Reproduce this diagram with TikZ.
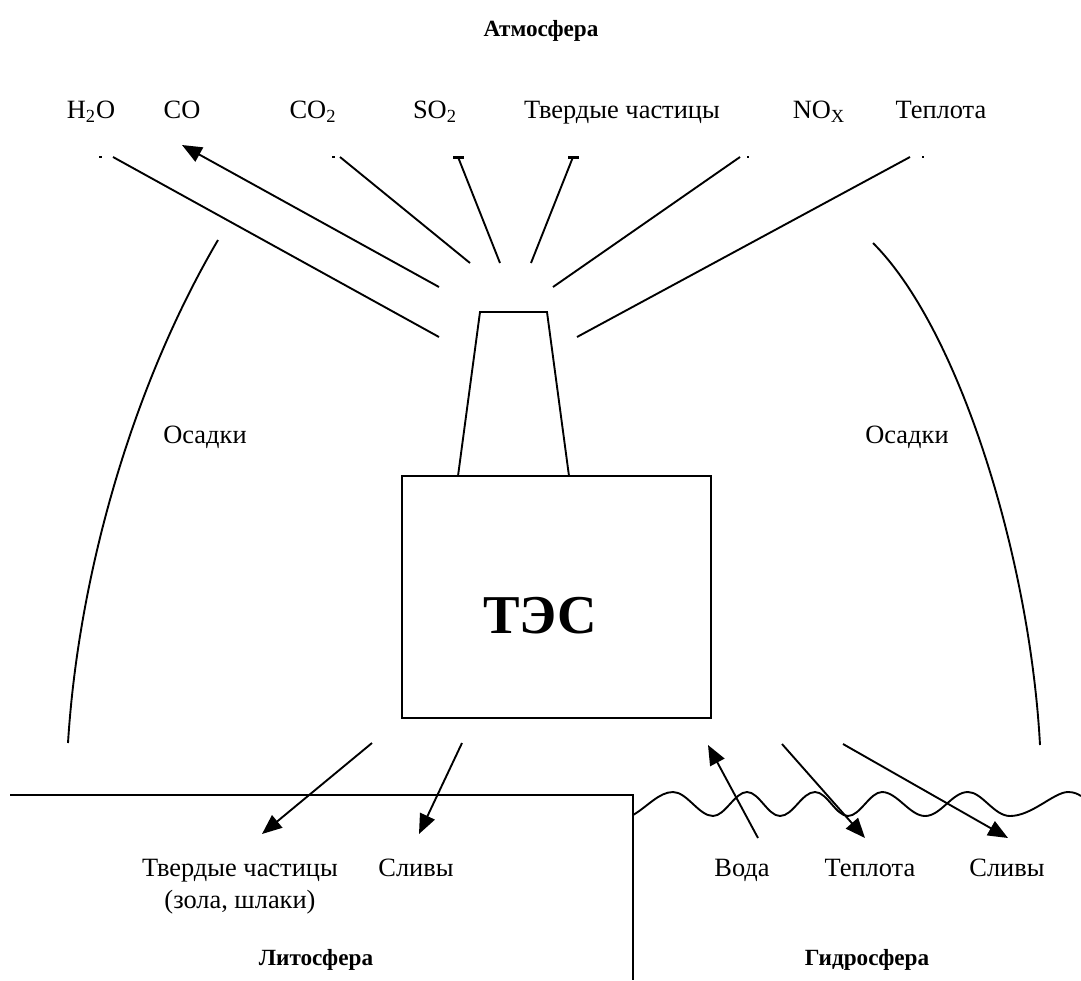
\documentclass[tikz,border=0pt]{standalone}
\usepackage{fontspec}
\setmainfont{Liberation Serif}
\usetikzlibrary{arrows.meta}
\begin{document}
\begin{tikzpicture}[x=0.53pt,y=-0.53pt,
  ln/.style={line width=1pt},
  arr/.style={line width=1pt,-{Triangle[length=10.5pt,width=8.5pt]}},
  lbl/.style={font=\fontsize{14}{16}\selectfont,inner sep=0pt,anchor=base},
  hd/.style={font=\fontsize{12.3}{14}\selectfont\bfseries,inner sep=0pt,anchor=base}]
\useasboundingbox (0,0) rectangle (1081,980);
% headings
\node[hd] (atm) at (541,36) {Атмосфера};
\node[hd] (lit) at (316,965) {Литосфера};
\node[hd] (hyd) at (867,965) {Гидросфера};
% top labels
\node[lbl] (h2o) at (91,118) {H\textsubscript{2}O};
\node[lbl] (co) at (182,118) {CO};
\node[lbl] (co2) at (313,118) {CO\textsubscript{2}};
\node[lbl] (so2) at (435,118) {SO\textsubscript{2}};
\node[lbl] (tv) at (622,118) {Твердые частицы};
\node[lbl] (nox) at (819,118) {NO\textsubscript{X}};
\node[lbl] (tep) at (941,118) {Теплота};
% plant
\draw[ln] (458,476) -- (480,312) -- (547,312) -- (569,476);
\node[draw,line width=1pt,minimum width=309*0.53pt,minimum height=242*0.53pt,inner sep=0pt] (tes) at (556.5,597) {};
\node[font=\fontsize{29}{34}\selectfont\bfseries,inner sep=0pt,anchor=base] (tesl) at (540,633) {ТЭС};
% top emissions
\coordinate (a1) at (439,337); \coordinate (b1) at (113,157);
\coordinate (a2) at (439,287); \coordinate (b2) at (182,145);
\coordinate (a3) at (470,263); \coordinate (b3) at (340,157);
\coordinate (a4) at (500,263); \coordinate (b4) at (458,157);
\coordinate (a5) at (531,263); \coordinate (b5) at (573,157);
\coordinate (a6) at (553,287); \coordinate (b6) at (740,157);
\coordinate (a7) at (577,337); \coordinate (b7) at (910,157);
\draw[ln] (a1) -- (b1);
\draw[arr] (a2) -- (b2);
\draw[ln] (a3) -- (b3);
\draw[ln] (a4) -- (b4);
\draw[ln] (a5) -- (b5);
\draw[ln] (a6) -- (b6);
\draw[ln] (a7) -- (b7);
% remnants of clipped arrow tips
\draw[line width=1.4pt] (453,157.5) -- (464,157.5);
\draw[line width=1.4pt] (568,157.5) -- (579,157.5);
\draw[line width=1pt] (99,157) -- (102,157);
\draw[line width=1pt] (332,157) -- (335,157);
\draw[line width=1pt] (747,157) -- (749,157);
\draw[line width=1pt] (922,157) -- (924,157);
% precipitation
\coordinate (l1) at (218,240); \coordinate (l2) at (68,743);
\coordinate (r1) at (873,243); \coordinate (r2) at (1040,745);
\draw[ln] (l1) .. controls (130,390) and (78,580) .. (l2);
\draw[ln] (r1) .. controls (960,330) and (1030,560) .. (r2);
\node[lbl] (osl) at (205,443) {Осадки};
\node[lbl] (osr) at (907,443) {Осадки};
% lithosphere
\coordinate (g1) at (10,795); \coordinate (g2) at (633,795); \coordinate (g3) at (633,980);
\draw[ln] (g1) -- (g2) -- (g3);
\coordinate (c1) at (372,743); \coordinate (d1) at (262,834);
\coordinate (c2) at (462,743); \coordinate (d2) at (419,834);
\draw[arr] (c1) -- (d1);
\draw[arr] (c2) -- (d2);
\node[lbl] (tv2) at (240,876) {Твердые частицы};
\node[lbl] (zol) at (240,908) {(зола, шлаки)};
\node[lbl] (sl1) at (416,876) {Сливы};
% hydrosphere
\draw[ln] (633,815) .. controls +(14,-8) and +(-14,0) .. (673,792)
  .. controls +(14,0) and +(-14,0) .. (713,816)
  .. controls +(12,0) and +(-12,0) .. (747,792)
  .. controls +(12,0) and +(-12,0) .. (780,816)
  .. controls +(13,0) and +(-13,0) .. (815,792)
  .. controls +(12,0) and +(-12,0) .. (848,816)
  .. controls +(12,0) and +(-12,0) .. (882,792)
  .. controls +(15,0) and +(-15,0) .. (925,816)
  .. controls +(16,0) and +(-16,0) .. (968,792)
  .. controls +(14,0) and +(-16,0) .. (1010,816)
  .. controls +(22,0) and +(-14,0) .. (1068,792)
  .. controls +(6,0) and +(-3,-2) .. (1081,796);
\coordinate (e1) at (758,838); \coordinate (f1) at (708,745);
\coordinate (e2) at (782,744); \coordinate (f2) at (865,838);
\coordinate (e3) at (843,744); \coordinate (f3) at (1008,838);
\draw[arr] (e1) -- (f1);
\draw[arr] (e2) -- (f2);
\draw[arr] (e3) -- (f3);
\node[lbl] (vod) at (742,876) {Вода};
\node[lbl] (tep2) at (870,876) {Теплота};
\node[lbl] (sl2) at (1007,876) {Сливы};
\end{tikzpicture}
\end{document}
